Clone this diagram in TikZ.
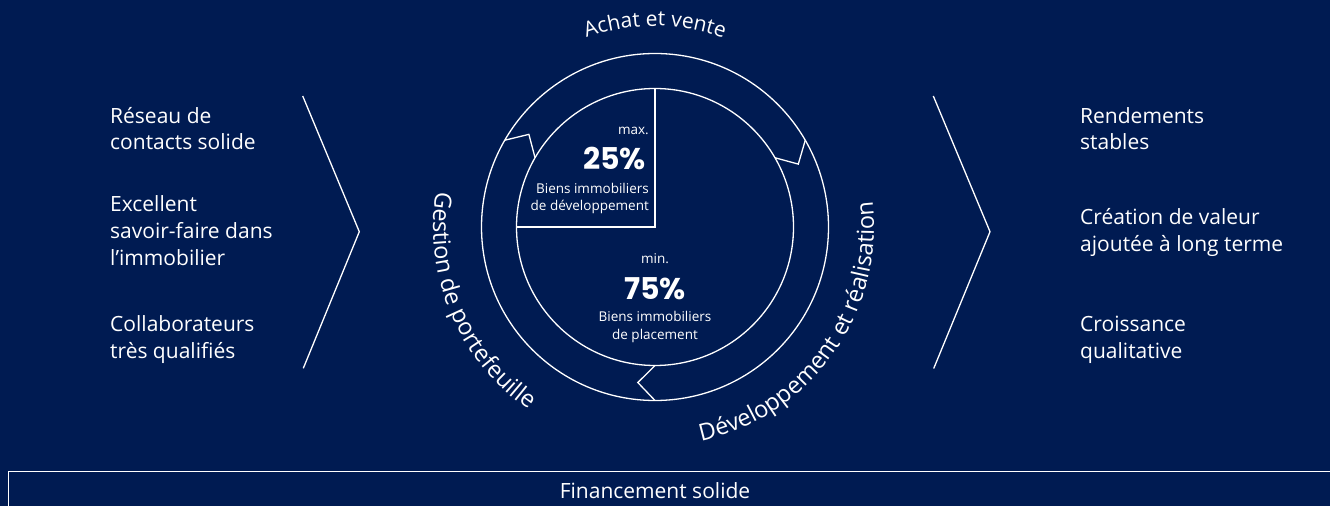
\documentclass[tikz,border=0pt]{standalone}
\usepackage{fontspec}
\setmainfont{Open Sans}
\newfontfamily\pctfont{Poppins}
\usetikzlibrary{decorations.text}
\definecolor{navy}{RGB}{0,27,82}

\begin{document}
\begin{tikzpicture}[x=1pt,y=1pt,
    line/.style={draw=white,line width=1.3pt},
    sidetext/.style={text=white,font=\fontsize{21}{26.7}\selectfont,align=left,anchor=base west,inner sep=0pt},
    pietext/.style={text=white,font=\fontsize{13.5}{17.5}\selectfont,inner sep=0pt},
    pcttext/.style={text=white,font=\pctfont\bfseries\fontsize{30}{30}\selectfont,inner sep=0pt},
    ringtext/.style 2 args={decorate,decoration={text along path,text align=center,text color=white,
      text={|\fontsize{#1}{25}\selectfont|#2}}}]
      \useasboundingbox (0,0) rectangle (1330,506);
      \fill[navy] (0,0) rectangle (1330,506);
      \coordinate (C) at (655,279);
      % ring
      \draw[line] (C) circle[radius=173.5pt];
      \draw[line] (C) circle[radius=138.5pt];
      \draw[line] ([shift={(90:138.5)}]C) -- (C) -- ([shift={(180:138.5)}]C);
      \foreach \a in {150,30,270}
      \draw[line] ([shift={(\a:173.5)}]C) -- ([shift={(\a-6.3:156.5)}]C) -- ([shift={(\a:138.5)}]C);
      \path[ringtext={21}{Achat et vente}] ([shift={(135:201)}]C) arc[start angle=135,end angle=45,radius=201pt];
      \path[ringtext={23.5}{Gestion de portefeuille}] ([shift={(153:222)}]C) arc[start angle=153,end angle=253,radius=222pt];
      \path[ringtext={23.5}{Développement et réalisation}] ([shift={(262.5:219)}]C) arc[start angle=262.5,end angle=386.5,radius=219pt];
      % pie texts
      \node[pietext,anchor=base east] (maxlbl) at (649,371) {max.};
      \node[pcttext,anchor=base east] (devpct) at (646,336) {25\%};
      \node[pietext,anchor=base east,align=right] (devlbl) at (649,295) {Biens immobiliers\\de développement};
      \node[pietext,anchor=base] (minlbl) at (655,242.7) {min.};
      \node[pcttext,anchor=base] (placepct) at (655,206) {75\%};
      \node[pietext,anchor=base,align=center] (placelbl) at (655,166.5) {Biens immobiliers\\de placement};
      % chevrons
      \draw[line] (302.7,410) -- (359.3,274.3) -- (303.3,137.7);
      \draw[line] (933.3,410) -- (990,274.3) -- (933.7,137.5);
      \foreach \name/\ypos/\txt in {reseau/356/{Réseau de\\contacts solide},
          savoir/240.9/{Excellent\\savoir-faire dans\\l’immobilier},
          collab/147.6/{Collaborateurs\\très qualifiés}}
      \node[sidetext] (\name) at (110,\ypos) {\txt};
      \foreach \name/\ypos/\txt in {rendement/356/{Rendements\\stables},
          creation/254.3/{Création de valeur\\ajoutée à long terme},
          croissance/147.6/{Croissance\\qualitative}}
      \node[sidetext] (\name) at (1080,\ypos) {\txt};
      % financing
      \draw[line] (8.5,0) |- (1330,34.3);
      \node[sidetext,anchor=base] (finance) at (655,8) {Financement solide};
\end{tikzpicture}
\end{document}
